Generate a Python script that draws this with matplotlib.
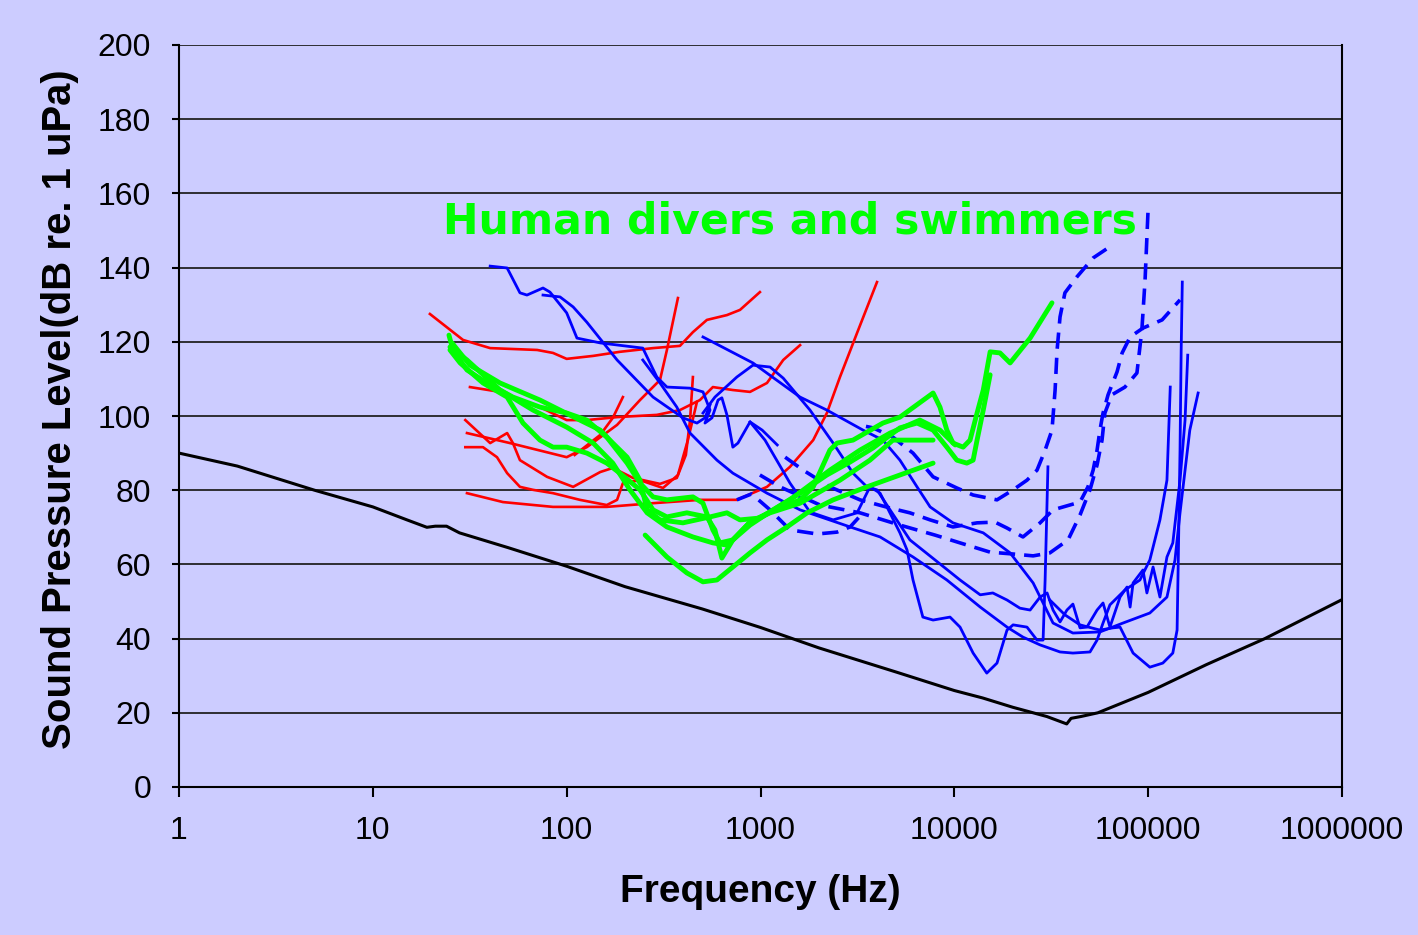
import numpy as np
import matplotlib.pyplot as plt
from matplotlib.ticker import FixedLocator, NullLocator

# ---------- data (frequency in Hz, level in dB re 1 uPa) ----------
black_f = [1, 2, 5, 10, 15, 19, 21, 24, 28, 50, 100, 200, 500, 1000, 2000, 5000, 10000,
           14000, 20000, 30000, 38000, 40000, 45000, 55000, 100000, 200000, 400000, 1000000]
black_db = [90, 86.5, 80, 75.5, 72, 70, 70.3, 70.3, 68.5, 64.5, 59.5, 54, 48, 43, 37.5, 31, 26,
            24, 21.5, 19, 17, 18.5, 19, 20, 25.5, 33, 40, 50.5]

# red curves
red1_f = [19.7, 29.2, 40.3, 70.4, 85, 100, 137, 188, 279, 384, 448, 529, 671, 784, 993]
red1_db = [127.5, 120.5, 118.3, 117.8, 117.0, 115.4, 116.2, 117.3, 118.3, 118.9, 122.6, 125.9, 127.2, 128.6, 133.4]
red2_f = [31.7, 45.3, 72.8, 100, 127, 182, 292, 384, 487, 568, 720, 883, 1080, 1310, 1600]
red2_db = [107.8, 106.5, 102.4, 98.9, 98.9, 99.7, 100.3, 101.6, 104.3, 107.8, 107.0, 106.5, 108.9, 115.1, 119.1]
red3_f = [30.6, 51, 100, 127, 182, 239, 303, 329, 375]
red3_db = [95.4, 92.7, 88.9, 91.6, 97.6, 104.3, 109.7, 117.8, 131.8]
red4_f = [30, 40.3, 49.3, 52.8, 57.4, 79.2, 108, 149, 173, 220, 303, 370, 412, 433, 448]
red4_db = [98.9, 92.7, 95.4, 92.7, 88.1, 83.6, 80.9, 84.9, 86.0, 83.3, 81.7, 83.3, 89.5, 98.9, 110.5]
red5_f = [30, 37, 43.7, 49.3, 57.4, 67, 85, 117, 161, 182, 195, 239, 314, 375, 422, 470]
red5_db = [91.6, 91.6, 88.9, 84.6, 80.9, 80.1, 79.2, 77.4, 76.0, 77.4, 81.9, 82.7, 80.6, 84.1, 93.5, 103.8]
red6_f = [30.6, 46.9, 85, 161, 279, 487, 755, 1080, 1420, 1870, 2200, 2570, 3150, 3990]
red6_db = [79.2, 76.8, 75.5, 75.5, 76.5, 77.4, 77.4, 80.9, 86.3, 93.5, 100.8, 110.5, 122.4, 136.1]
red7_f = [110, 149, 173, 195]
red7_db = [89.5, 94.9, 99.5, 105.1]

# green curves (human divers and swimmers)
green1_f = [24.7, 25.9, 30.6, 38.8, 52.8, 72.8, 100, 127, 161, 205, 239, 279, 329, 448, 505, 568,
            618, 720, 883, 1120, 1600, 1870, 2280, 2480, 3000, 4280, 5240, 7770, 8430, 9150, 9840,
            11100, 12050, 13100, 14100, 15300, 17200, 19400, 24600, 31900]
green1_db = [121.8, 117.8, 112.4, 108.9, 105.1, 102.4, 100.8, 98.9, 94.3, 87.3, 81.9, 78.2, 77.4,
             78.2, 76.5, 69.3, 65.8, 66.6, 71.4, 74.1, 77.4, 80.9, 90.8, 92.7, 93.5, 98.1, 99.7,
             106.2, 102.4, 96.2, 92.7, 91.6, 93.5, 100.8, 107.0, 117.3, 117.0, 114.3, 121.0, 130.5]
green2_f = [25.0, 30.6, 45.3, 67, 100, 137, 173, 212, 260, 329, 448, 568, 671, 883, 1160, 1600,
            2200, 2900, 3810, 5240, 6420, 7770, 9150, 10300, 11600, 12500, 13100, 14100, 15300]
green2_db = [118.6, 115.1, 107.0, 101.6, 97.0, 92.7, 87.3, 80.1, 73.9, 70.1, 67.4, 65.8, 65.2,
             70.6, 74.7, 79.2, 84.1, 87.6, 91.4, 96.8, 98.1, 96.2, 91.6, 88.1, 87.3, 88.1, 93.5,
             101.6, 111.1]
green3_f = [25.0, 28.2, 37, 49.3, 59.5, 72.8, 85, 100, 127, 161, 188, 239, 279, 329, 417, 529,
            582, 632, 720, 883, 1120, 1600, 2570, 3670, 4820, 5900, 7770]
green3_db = [117.8, 114.3, 108.9, 105.1, 98.1, 93.5, 91.6, 91.6, 90.0, 87.3, 84.6, 80.1, 74.7,
             72.8, 73.9, 72.8, 69.3, 61.7, 66.6, 71.4, 73.9, 76.5, 82.7, 88.1, 93.5, 93.5, 93.5]
green4_f = [25.6, 31.7, 45.3, 72.8, 117, 149, 173, 205, 239, 260, 303, 398, 549, 671, 784, 993,
            1420, 2280, 3260, 4660, 6640, 8430, 10100]
green4_db = [119.7, 113.7, 108.9, 104.3, 98.9, 96.2, 92.7, 88.9, 82.7, 74.7, 72.0, 71.2, 72.8,
             73.9, 72.0, 72.5, 77.4, 85.4, 90.8, 95.4, 98.9, 96.2, 92.2]
green5_f = [254, 329, 417, 505, 596, 720, 883, 1080, 1370, 1740, 2370, 3540, 5240, 7770]
green5_db = [67.9, 62.0, 57.7, 55.3, 55.8, 59.3, 63.1, 66.6, 70.1, 73.9, 77.4, 80.9, 84.1, 87.3]

# blue solid curves
blue1_f = [40.3, 49.3, 57.4, 62.4, 75.5, 82, 100, 113, 149, 247, 292, 329, 433, 505, 549, 517,
           562, 604, 632, 671, 720, 765, 883, 1020, 1220]
blue1_db = [140.4, 139.9, 133.2, 132.6, 134.5, 133.4, 127.8, 121.0, 119.7, 118.3, 110.5, 107.8,
            107.5, 106.5, 101.6, 98.1, 99.5, 104.3, 104.9, 100.3, 91.6, 92.7, 98.4, 96.2, 92.2]
blue2_f = [75.5, 92.4, 108, 127, 182, 279, 398, 470, 517, 549]
blue2_db = [132.6, 132.1, 129.4, 125.3, 115.1, 105.1, 99.5, 98.1, 99.5, 103.0]
blue3_f = [505, 914, 1600, 2200, 3380, 4280, 5240, 6420, 7500, 9840, 14100, 19400, 25500, 32300,
           40900, 56400, 74200, 102000, 125000, 137500, 146000, 155000, 164000, 181000]
blue3_db = [121.3, 114.3, 105.1, 101.6, 96.2, 93.5, 88.1, 80.9, 75.5, 71.2, 68.5, 63.1, 55.0, 44.2,
            41.5, 41.8, 44.2, 46.9, 51.2, 61.2, 73.9, 85.4, 96.2, 106.2]
blue4_f = [247, 303, 370, 433, 596, 720, 1080, 1600, 2900, 4140, 6120, 9150, 13600, 18700, 22600,
           27700, 35100, 40900, 50100, 54500, 58500, 63500, 75900, 90700, 102000, 115000, 125000, 130000]
blue4_db = [115.1, 108.9, 102.4, 95.4, 88.1, 84.6, 79.2, 74.7, 70.1, 67.4, 62.0, 55.8, 48.5, 43.1,
            40.4, 38.3, 36.4, 36.1, 36.4, 39.6, 44.2, 49.1, 53.1, 55.8, 61.2, 72.0, 82.7, 107.8]
blue5_f = [505, 582, 755, 914, 1120, 1310, 1800, 2370, 3000, 3540, 3990, 4660, 5900, 7950, 10700,
           13600, 15800, 18700, 21800, 24600, 27700, 30100, 32300, 35100, 38100, 40900, 44500,
           48300, 54500, 58500, 63500, 65900, 71600, 77800, 80700, 83600, 94000, 98500, 106000,
           115000, 125000, 134000, 146000, 155000, 160000]
blue5_db = [100.8, 105.1, 110.5, 113.7, 113.2, 110.2, 101.6, 92.7, 84.6, 80.9, 80.1, 74.7, 66.6,
            61.2, 55.8, 51.8, 52.3, 50.4, 48.2, 47.7, 51.2, 52.3, 47.7, 44.5, 47.7, 49.3, 42.9,
            43.1, 47.7, 49.6, 43.1, 45.6, 51.2, 53.9, 48.5, 55.0, 58.5, 52.3, 59.3, 51.2, 62.0,
            65.8, 82.7, 98.9, 116.4]
blue6_f = [883, 1055, 1420, 1800, 2370, 3150, 3670, 4140, 5240, 5700, 6120, 6880, 7770, 9500,
           10700, 12500, 14700, 16600, 18700, 20100, 23700, 26700, 28700, 29400, 30400]
blue6_db = [98.4, 93.5, 81.9, 74.1, 72.0, 73.9, 80.9, 79.2, 68.5, 63.9, 55.8, 45.8, 45.0, 45.8,
            43.1, 36.1, 30.7, 33.4, 42.3, 43.7, 43.1, 39.6, 39.6, 55.8, 86.3]
blue7_f = [31100, 37200, 44500, 56400, 65900, 71600, 83600, 102000, 119000, 134000, 141000,
           143000, 146000, 148000, 150000]
blue7_db = [50.4, 46.4, 43.7, 42.3, 42.9, 43.1, 36.1, 32.3, 33.4, 36.1, 42.3, 61.2, 90.8, 117.8, 136.1]

# blue dashed curves
dash1_f = [3500, 3810, 4820, 6120, 7770, 10300, 12500, 16600, 20100, 23700, 26700, 29400, 31900,
           33100, 33900, 35100, 37200, 42900, 52000, 62100]
dash1_db = [97.2, 96.8, 94.3, 90.0, 83.6, 80.6, 78.7, 77.4, 80.1, 82.7, 85.4, 90.8, 96.2, 107.0,
            117.8, 126.7, 133.2, 137.5, 142.6, 145.3]
dash2_f = [993, 1260, 2030, 3260, 5240, 7950, 10700, 15300, 20100, 25500, 31100, 38600, 44500,
           50100, 54500, 57800, 59800, 64900, 75900, 87500, 92800, 96400, 100000]
dash2_db = [84.1, 80.9, 76.0, 73.9, 70.6, 67.9, 65.8, 63.3, 62.8, 62.3, 63.1, 66.6, 73.3, 80.1,
            86.8, 93.5, 100.8, 105.7, 107.8, 111.6, 123.2, 136.7, 156.1]
dash3_f = [1340, 1660, 2280, 3260, 4660, 5900, 7500, 9840, 13100, 16200, 18700, 22600, 27700,
           32300, 44500, 48900, 52000, 54500, 56400, 58500, 62100, 69100, 73400, 80700, 94000,
           118000, 146000]
dash3_db = [88.9, 85.4, 80.9, 77.4, 75.2, 73.9, 72.0, 70.1, 71.2, 71.4, 69.8, 67.4, 71.2, 74.7,
            76.8, 80.9, 85.4, 90.8, 96.2, 100.8, 105.7, 111.9, 117.0, 121.3, 123.7, 125.9, 131.3]
dash4_f = [755, 900, 1120, 1420, 1960, 2480, 2900, 3380]
dash4_db = [77.4, 79.0, 74.7, 69.3, 68.2, 68.7, 70.1, 73.9]

x_ticks = [1, 10, 100, 1000, 10000, 100000, 1000000]
y_ticks = list(range(0, 201, 20))

BG = "#CCCCFF"
RED, BLUE, GREEN = "#FF0000", "#0000FF", "#00FF00"

fig = plt.figure(figsize=(14.18, 9.35), dpi=100, facecolor=BG)
ax = fig.add_axes([179 / 1418, 1 - 787 / 935, (1342 - 179) / 1418, (787 - 45) / 935])
ax.set_facecolor(BG)

for y in y_ticks[1:]:
    ax.axhline(y, color="#222222", lw=1.3, zorder=1)

ax.plot(black_f, black_db, color="black", lw=2.2, zorder=3)

for f, db in [(red1_f, red1_db), (red2_f, red2_db), (red3_f, red3_db), (red4_f, red4_db),
              (red5_f, red5_db), (red6_f, red6_db), (red7_f, red7_db)]:
    ax.plot(f, db, color=RED, lw=1.9, zorder=3)

for f, db in [(blue1_f, blue1_db), (blue2_f, blue2_db), (blue3_f, blue3_db), (blue4_f, blue4_db),
              (blue5_f, blue5_db), (blue6_f, blue6_db), (blue7_f, blue7_db)]:
    ax.plot(f, db, color=BLUE, lw=2.0, zorder=3)

for f, db in [(dash1_f, dash1_db), (dash2_f, dash2_db), (dash3_f, dash3_db), (dash4_f, dash4_db)]:
    ax.plot(f, db, color=BLUE, lw=2.6, dashes=(4.5, 2.5), zorder=3)

for f, db in [(green1_f, green1_db), (green2_f, green2_db), (green3_f, green3_db),
              (green4_f, green4_db), (green5_f, green5_db)]:
    ax.plot(f, db, color=GREEN, lw=3.5, zorder=4, solid_capstyle="round", solid_joinstyle="round")

ax.text(1420, 149.3, "Human divers and swimmers", color=GREEN, fontsize=30.6,
        fontweight="bold", family="DejaVu Sans", ha="center", va="baseline", zorder=5)

ax.set_xscale("log")
ax.set_xlim(1, 1e6)
ax.set_ylim(0, 200)
ax.xaxis.set_major_locator(FixedLocator(x_ticks))
ax.xaxis.set_minor_locator(NullLocator())
ax.set_xticklabels([str(v) for v in x_ticks])
ax.set_yticks(y_ticks)

ax.spines["top"].set_visible(False)
for side in ["left", "bottom", "right"]:
    ax.spines[side].set_linewidth(1.5)
    ax.spines[side].set_color("black")

ax.tick_params(axis="both", direction="out", width=1.5, color="black",
               labelsize=23, labelfontfamily="Liberation Sans")
ax.tick_params(axis="y", length=5, pad=15)
ax.tick_params(axis="x", length=7, pad=14)

ax.set_xlabel("Frequency (Hz)", fontsize=28, fontweight="bold", family="Liberation Sans", labelpad=20)
ax.set_ylabel("Sound Pressure Level(dB re. 1 uPa)", fontsize=28.9, fontweight="bold",
              family="Liberation Sans")
ax.yaxis.set_label_coords(-0.086, 0.509)

fig.savefig("out.png", dpi=100, facecolor=BG)
